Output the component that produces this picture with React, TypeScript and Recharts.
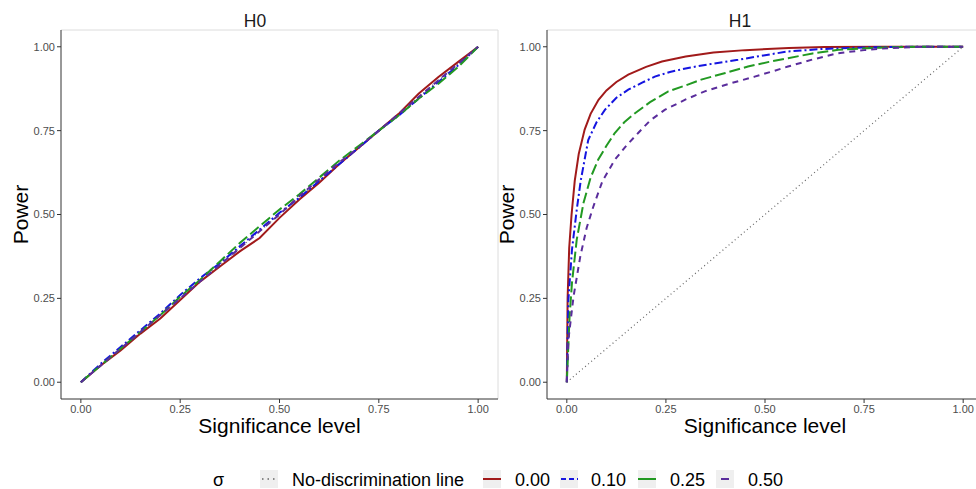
import React from 'react';
import { LineChart, Line, XAxis, YAxis, ReferenceLine } from 'recharts';

type Pt = { x: number; y: number };
const pts = (arr: number[][]): Pt[] => arr.map(([x, y]) => ({ x, y }));

const ticks = [0, 0.25, 0.5, 0.75, 1];
const domain: [number, number] = [-0.05, 1.05];

const noDiscrimination = pts([[0, 0], [1, 1]]);

// H0 panel
const h0Sigma000 = pts([[0, 0], [0.05, 0.05], [0.1, 0.095], [0.15, 0.145], [0.2, 0.19], [0.25, 0.245], [0.3, 0.3], [0.35, 0.345], [0.4, 0.39], [0.45, 0.43], [0.5, 0.49], [0.55, 0.545], [0.6, 0.595], [0.65, 0.65], [0.7, 0.7], [0.75, 0.75], [0.8, 0.8], [0.85, 0.86], [0.9, 0.91], [0.95, 0.955], [1, 1]]);
const h0Sigma010 = pts([[0, 0], [0.05, 0.055], [0.1, 0.105], [0.15, 0.155], [0.2, 0.205], [0.25, 0.26], [0.3, 0.31], [0.35, 0.355], [0.4, 0.405], [0.45, 0.455], [0.5, 0.505], [0.55, 0.55], [0.6, 0.6], [0.65, 0.65], [0.7, 0.7], [0.75, 0.75], [0.8, 0.795], [0.85, 0.845], [0.9, 0.895], [0.95, 0.945], [1, 1]]);
const h0Sigma025 = pts([[0, 0], [0.05, 0.05], [0.1, 0.1], [0.15, 0.15], [0.2, 0.2], [0.25, 0.255], [0.3, 0.305], [0.35, 0.36], [0.4, 0.415], [0.45, 0.465], [0.5, 0.515], [0.55, 0.56], [0.6, 0.61], [0.65, 0.66], [0.7, 0.705], [0.75, 0.75], [0.8, 0.795], [0.85, 0.845], [0.9, 0.89], [0.95, 0.94], [1, 1]]);
const h0Sigma050 = pts([[0, 0], [0.05, 0.05], [0.1, 0.1], [0.15, 0.15], [0.2, 0.2], [0.25, 0.25], [0.3, 0.3], [0.35, 0.35], [0.4, 0.4], [0.45, 0.45], [0.5, 0.5], [0.55, 0.555], [0.6, 0.605], [0.65, 0.655], [0.7, 0.7], [0.75, 0.75], [0.8, 0.8], [0.85, 0.85], [0.9, 0.9], [0.95, 0.95], [1, 1]]);

// H1 panel
const h1Sigma000 = pts([[0, 0], [0.002, 0.25], [0.006, 0.4], [0.012, 0.5], [0.02, 0.6], [0.03, 0.68], [0.045, 0.753], [0.06, 0.8], [0.08, 0.842], [0.1, 0.87], [0.125, 0.895], [0.155, 0.917], [0.2, 0.94], [0.24, 0.956], [0.3, 0.971], [0.37, 0.983], [0.45, 0.99], [0.56, 0.996], [0.65, 0.999], [0.8, 1], [1, 1]]);
const h1Sigma010 = pts([[0, 0], [0.004, 0.246], [0.013, 0.395], [0.025, 0.514], [0.035, 0.6], [0.054, 0.722], [0.075, 0.775], [0.096, 0.812], [0.125, 0.848], [0.155, 0.872], [0.19, 0.893], [0.222, 0.911], [0.26, 0.925], [0.306, 0.937], [0.37, 0.95], [0.432, 0.961], [0.5, 0.975], [0.558, 0.986], [0.64, 0.993], [0.75, 0.998], [0.85, 1], [1, 1]]);
const h1Sigma025 = pts([[0, 0], [0.007, 0.197], [0.013, 0.296], [0.025, 0.425], [0.042, 0.534], [0.06, 0.61], [0.079, 0.663], [0.1, 0.705], [0.121, 0.743], [0.145, 0.775], [0.172, 0.802], [0.21, 0.835], [0.256, 0.867], [0.3, 0.885], [0.339, 0.902], [0.4, 0.922], [0.457, 0.941], [0.51, 0.955], [0.558, 0.966], [0.62, 0.98], [0.685, 0.991], [0.78, 0.997], [0.88, 1], [1, 1]]);
const h1Sigma050 = pts([[0, 0], [0.004, 0.127], [0.017, 0.256], [0.034, 0.375], [0.05, 0.46], [0.067, 0.524], [0.09, 0.6], [0.121, 0.663], [0.15, 0.705], [0.18, 0.743], [0.21, 0.78], [0.247, 0.812], [0.3, 0.843], [0.348, 0.867], [0.41, 0.89], [0.474, 0.911], [0.52, 0.927], [0.558, 0.941], [0.62, 0.962], [0.685, 0.981], [0.75, 0.99], [0.811, 0.996], [0.9, 1], [1, 1]]);

const FONT = '"Liberation Sans", Arial, Helvetica, sans-serif';
const RED = '#a11a1a';
const BLUE = '#1515e0';
const GREEN = '#229922';
const PURPLE = '#5a2d9c';
const GRAY = '#666666';

const styles = [
  { key: '0.00', color: RED, dash: undefined as string | undefined },
  { key: '0.10', color: BLUE, dash: '8 3 2 3' },
  { key: '0.25', color: GREEN, dash: '11 4' },
  { key: '0.50', color: PURPLE, dash: '6 5' },
];

function Panel({ series, yAxisWidth, right }: { series: Pt[][]; yAxisWidth: number; right: number }) {
  return (
    <LineChart width={500} height={440} margin={{ top: 30, right, bottom: 0, left: 0 }} style={{ fontFamily: FONT }}>
      <XAxis
        type="number"
        dataKey="x"
        domain={domain}
        ticks={ticks}
        allowDataOverflow
        height={41}
        tickFormatter={(v: number) => v.toFixed(2)}
        tick={{ fill: '#4d4d4d', fontSize: 11 }}
        tickSize={4}
        tickLine={{ stroke: '#333' }}
        axisLine={{ stroke: '#333' }}
        label={{ value: 'Significance level', position: 'insideBottom', offset: 7, style: { fontSize: 21, fill: '#000' } }}
      />
      <YAxis
        type="number"
        dataKey="y"
        domain={domain}
        ticks={ticks}
        allowDataOverflow
        width={yAxisWidth}
        tickFormatter={(v: number) => v.toFixed(2)}
        tick={{ fill: '#4d4d4d', fontSize: 11 }}
        tickSize={4}
        tickLine={{ stroke: '#333' }}
        axisLine={{ stroke: '#333' }}
        label={{ value: 'Power', angle: -90, position: 'insideLeft', offset: yAxisWidth - 40, style: { fontSize: 21, fill: '#000', textAnchor: 'middle' } }}
      />
      <ReferenceLine y={1.05} stroke="#dcdcdc" />
      <ReferenceLine x={1.05} stroke="#dcdcdc" />
      <Line data={noDiscrimination} dataKey="y" type="linear" stroke={GRAY} strokeWidth={1.2} strokeDasharray="1 3" dot={false} activeDot={false} isAnimationActive={false} />
      {series.map((s, i) => (
        <Line
          key={styles[i].key}
          data={s}
          dataKey="y"
          type="linear"
          stroke={styles[i].color}
          strokeWidth={2}
          strokeDasharray={styles[i].dash}
          dot={false}
          activeDot={false}
          isAnimationActive={false}
        />
      ))}
    </LineChart>
  );
}

export default function App() {
  return (
    <div style={{ position: 'fixed', left: 0, top: 0, width: 976, height: 489, overflow: 'hidden', background: '#fff' }}>
      <div style={{ position: 'absolute', left: 0, top: 0 }}>
        <Panel series={[h0Sigma000, h0Sigma010, h0Sigma025, h0Sigma050]} yAxisWidth={61} right={2} />
      </div>
      <div style={{ position: 'absolute', left: 488, top: 0 }}>
        <Panel series={[h1Sigma000, h1Sigma010, h1Sigma025, h1Sigma050]} yAxisWidth={59} right={5} />
      </div>
      <svg width={976} height={489} style={{ position: 'absolute', left: 0, top: 0, pointerEvents: 'none', fontFamily: FONT }}>
        <text x={255} y={27} textAnchor="middle" fontSize={17.5} fill="#1a1a1a">H0</text>
        <text x={740} y={27} textAnchor="middle" fontSize={17.5} fill="#1a1a1a">H1</text>
        <text x={213} y={486} fontSize={18} fill="#000">σ</text>
        <rect x={260} y={470} width={18} height={18} fill="#efefef" />
        <line x1={262} y1={479} x2={277} y2={479} stroke={GRAY} strokeWidth={1.5} strokeDasharray="1.5 4" />
        <text x={292} y={486} fontSize={18} fill="#000">No-discrimination line</text>
        <rect x={483} y={470} width={18} height={18} fill="#efefef" />
        <line x1={483} y1={479} x2={501} y2={479} stroke={RED} strokeWidth={2} />
        <text x={515} y={486} fontSize={18} fill="#000">0.00</text>
        <rect x={560} y={470} width={18} height={18} fill="#efefef" />
        <line x1={561} y1={479} x2={578} y2={479} stroke={BLUE} strokeWidth={2} strokeDasharray="5 3" />
        <text x={591} y={486} fontSize={18} fill="#000">0.10</text>
        <rect x={638} y={470} width={18} height={18} fill="#efefef" />
        <line x1={638} y1={479} x2={656} y2={479} stroke={GREEN} strokeWidth={2} />
        <text x={670} y={486} fontSize={18} fill="#000">0.25</text>
        <rect x={716} y={470} width={18} height={18} fill="#efefef" />
        <line x1={721} y1={479} x2={729} y2={479} stroke={PURPLE} strokeWidth={2} />
        <text x={748} y={486} fontSize={18} fill="#000">0.50</text>
      </svg>
    </div>
  );
}
